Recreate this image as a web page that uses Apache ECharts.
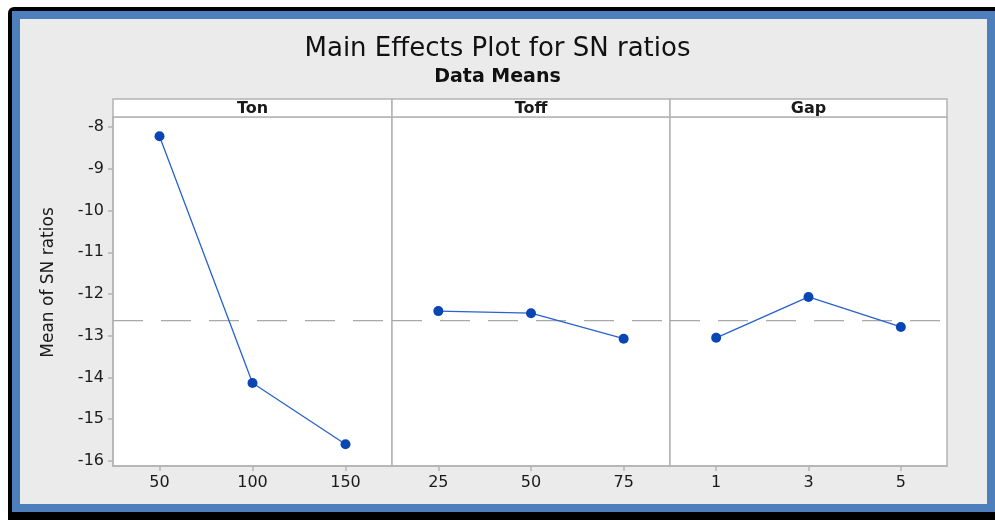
<!DOCTYPE html>
<html>
<head>
<meta charset="utf-8">
<script src="https://cdn.jsdelivr.net/npm/echarts@6/dist/echarts.min.js"></script>
<style>
  html, body { margin: 0; padding: 0; background: #fff; }
  #main { width: 995px; height: 520px; }
</style>
</head>
<body>
<div id="main"></div>
<script>
// 数据
var factorNames = ['Ton', 'Toff', 'Gap'];
var tonLevels = ['50', '100', '150'];
var toffLevels = ['25', '50', '75'];
var gapLevels = ['1', '3', '5'];
var tonMeans = [-8.22, -14.13, -15.60];
var toffMeans = [-12.41, -12.46, -13.07];
var gapMeans = [-13.05, -12.07, -12.79];
var overallMean = -12.64;
var yTicks = [-16, -15, -14, -13, -12, -11, -10, -9, -8];

var levels = [tonLevels, toffLevels, gapLevels];
var means = [tonMeans, toffMeans, gapMeans];

// 面板位置
var panelLeft = [113, 392, 670];
var panelWidth = [279, 278, 277];
var panelTop = 117, panelHeight = 349, stripHeight = 18;
var gridColor = '#b4b4b4';
var font = 'DejaVu Sans, sans-serif';

var container = document.getElementById('main');
var myChart = echarts.init(container);

var grids = [], xAxes = [], yAxes = [], series = [], graphics = [];

// 外框
graphics.push({ type: 'rect', shape: { x: 8, y: 7, width: 987, height: 513, r: [6, 0, 0, 0] }, style: { fill: '#000' }, z: -10, silent: true });
graphics.push({ type: 'rect', shape: { x: 12, y: 11, width: 983, height: 501 }, style: { fill: '#4d7fbc' }, z: -9, silent: true });
graphics.push({ type: 'rect', shape: { x: 20, y: 19, width: 967, height: 485 }, style: { fill: '#ebebeb' }, z: -8, silent: true });

// y轴标题 (以含标题条的整个面板居中)
graphics.push({
    type: 'text', x: 49, y: (panelTop - stripHeight + panelTop + panelHeight) / 2, rotation: Math.PI / 2,
    style: { text: 'Mean of SN ratios', fill: '#1a1a1a', font: '17px ' + font, align: 'center', verticalAlign: 'middle' },
    silent: true
});

for (var i = 0; i < 3; i++) {
    grids.push({
        left: panelLeft[i], top: panelTop, width: panelWidth[i], height: panelHeight,
        show: true, backgroundColor: '#fff', borderColor: gridColor, borderWidth: 1.5
    });
    xAxes.push({
        type: 'category', gridIndex: i, data: levels[i], boundaryGap: true,
        axisLine: { show: true, lineStyle: { color: gridColor, width: 1.5 } },
        axisTick: { show: true, alignWithLabel: true, length: 5, lineStyle: { color: gridColor, width: 1.5 } },
        axisLabel: { color: '#1a1a1a', fontSize: 16, fontFamily: font, margin: 9 },
        splitLine: { show: false }
    });
    yAxes.push({
        type: 'value', gridIndex: i, min: -16.12, max: -7.76,
        axisLine: { show: i === 0, lineStyle: { color: gridColor, width: 1.5 } },
        axisTick: { show: i === 0, length: 5, customValues: yTicks, lineStyle: { color: gridColor, width: 1.5 } },
        axisLabel: { show: i === 0, color: '#1a1a1a', fontSize: 16, fontFamily: font, margin: 9, customValues: yTicks },
        splitLine: { show: false }
    });
    series.push({
        type: 'line', xAxisIndex: i, yAxisIndex: i, data: means[i],
        symbol: 'circle', symbolSize: 10,
        lineStyle: { color: '#2862cc', width: 1.3 },
        itemStyle: { color: '#0a45b4' },
        z: 3
    });
    // 面板标题条
    graphics.push({
        type: 'rect', shape: { x: panelLeft[i], y: panelTop - stripHeight, width: panelWidth[i], height: stripHeight },
        style: { fill: '#fff', stroke: gridColor, lineWidth: 1.5 }, silent: true
    });
    graphics.push({
        type: 'text', x: panelLeft[i] + panelWidth[i] / 2, y: panelTop - stripHeight / 2 + 1,
        style: { text: factorNames[i], fill: '#1a1a1a', font: 'bold 16px ' + font, align: 'center', verticalAlign: 'middle' },
        silent: true
    });
}

var option = {
    animation: false,
    title: {
        text: 'Main Effects Plot for SN ratios',
        subtext: 'Data Means',
        left: 'center', top: 31, itemGap: 6,
        textStyle: { color: '#111', fontSize: 26, fontWeight: 'normal', fontFamily: font },
        subtextStyle: { color: '#111', fontSize: 19, fontWeight: 'bold', fontFamily: font }
    },
    grid: grids,
    xAxis: xAxes,
    yAxis: yAxes,
    series: series,
    graphic: graphics
};
myChart.setOption(option);

// 总均值虚线: 每个面板一条, 虚线从面板左边开始, 位置由y轴比例尺换算
for (var k = 0; k < 3; k++) {
    var meanY = myChart.convertToPixel({ yAxisIndex: k }, overallMean);
    graphics.push({
        type: 'line', z: 1, silent: true,
        shape: { x1: panelLeft[k], y1: meanY, x2: panelLeft[k] + panelWidth[k], y2: meanY },
        style: { stroke: '#a8a8a8', lineWidth: 1.3, lineDash: [30, 18] }
    });
}
myChart.setOption({ graphic: graphics });
</script>
</body>
</html>
